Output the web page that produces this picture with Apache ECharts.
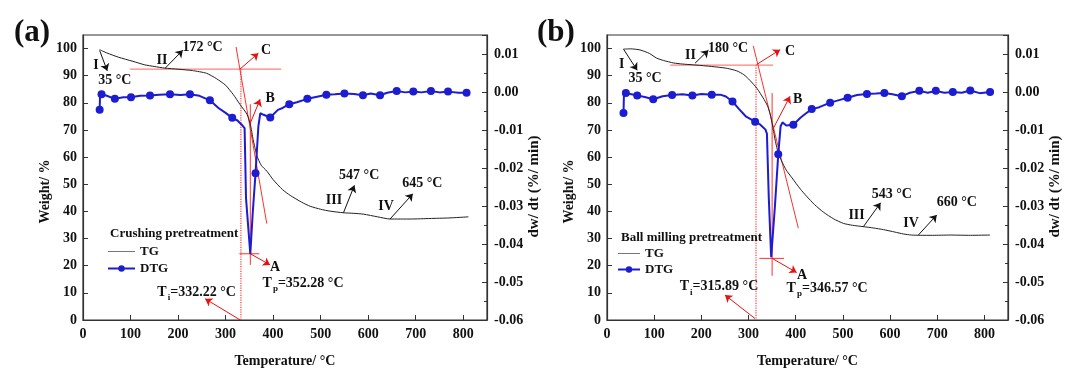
<!DOCTYPE html>
<html>
<head>
<meta charset="utf-8">
<script src="https://cdn.jsdelivr.net/npm/echarts/dist/echarts.min.js"></script>
<style>
html, body { margin: 0; background: #fff; }
#chart { width: 1066px; height: 373px; }
</style>
</head>
<body>
<div id="chart"></div>
<script>
// (a) crushing pretreatment - TG curve (weight %)
var tgA_T = [35, 50, 75, 105, 130, 150, 172, 200, 230, 260, 281, 300, 316, 330, 345, 352, 358, 366, 375, 387, 400, 420, 436, 460, 478, 500, 520, 548, 570, 590, 620, 646, 690, 730, 770, 811];
var tgA_W = [99.6, 98.4, 96.8, 95.3, 94.0, 93.4, 92.8, 92.4, 91.9, 90.9, 88.9, 86.5, 83.1, 79.5, 75.8, 72.2, 66.5, 60.5, 57.0, 54.8, 51.7, 48.0, 45.9, 43.4, 41.9, 40.8, 40.1, 39.5, 39.3, 39.0, 38.0, 37.2, 37.2, 37.4, 37.6, 38.0];
// (a) DTG curve, M = 1 where a dot is drawn
var dtgA_T = [35, 36, 39, 50, 67, 85, 101, 120, 141, 160, 183, 205, 225, 245, 267, 285, 300, 314, 325, 336, 340, 343, 352, 357, 363, 369, 373, 380, 394, 410, 420, 434, 450, 472, 490, 512, 530, 550, 570, 589, 605, 625, 640, 660, 678, 695, 712, 732, 750, 768, 790, 807];
var dtgA_V = [-0.0047, -0.0004, -0.0006, -0.0010, -0.0018, -0.0014, -0.0014, -0.0010, -0.0009, -0.0007, -0.0006, -0.0008, -0.0006, -0.0010, -0.0022, -0.0042, -0.0055, -0.0068, -0.0075, -0.0089, -0.0095, -0.028, -0.0426, -0.032, -0.0214, -0.009, -0.0056, -0.0060, -0.0067, -0.0047, -0.0042, -0.0032, -0.0027, -0.0018, -0.0013, -0.00075, -0.0006, -0.0004, -0.0005, -0.00085, -0.0004, -0.00085, -0.0002, 0.00025, -0.0001, 0.00015, -0.0001, 0.00025, -0.0001, 0.0001, -0.0002, -0.0002];
var dtgA_M = [1, 0, 1, 0, 1, 0, 1, 0, 1, 0, 1, 0, 1, 0, 1, 0, 0, 1, 0, 0, 0, 0, 0, 0, 1, 0, 0, 0, 1, 0, 0, 1, 0, 1, 0, 1, 0, 1, 0, 1, 0, 1, 0, 1, 0, 1, 0, 1, 0, 1, 0, 1];

// (b) ball milling pretreatment
var tgB_T = [35, 50, 70, 90, 105, 120, 141, 160, 183, 210, 233, 255, 275, 290, 303, 318, 331, 340, 346, 351, 357, 363, 370, 380, 392, 410, 423, 440, 459, 480, 501, 520, 543, 565, 586, 610, 628, 645, 664, 690, 727, 770, 812];
var tgB_W = [99.8, 99.9, 99.5, 98.2, 96.5, 95.6, 94.7, 94.3, 94.0, 93.6, 93.2, 92.7, 91.8, 90.4, 88.3, 85.3, 81.8, 79.0, 75.8, 71.5, 65.8, 61.5, 58.6, 55.2, 52.4, 48.2, 45.6, 42.5, 39.7, 37.3, 35.6, 34.9, 34.4, 33.9, 33.3, 32.4, 31.7, 31.3, 31.2, 31.2, 31.3, 31.2, 31.3];
var dtgB_T = [35, 36, 40, 52, 64, 80, 98, 118, 138, 160, 181, 200, 222, 240, 252, 266, 280, 295, 314, 325, 336, 339, 343, 348, 356, 363, 368, 372, 380, 395, 410, 420, 434, 450, 473, 490, 510, 530, 551, 570, 588, 605, 625, 642, 662, 680, 697, 715, 733, 752, 770, 790, 812];
var dtgB_V = [-0.0055, -0.0002, -0.00025, -0.0006, -0.0009, -0.0013, -0.0019, -0.0011, -0.0008, -0.0006, -0.0009, -0.0005, -0.0007, -0.0007, -0.0012, -0.0025, -0.0045, -0.0065, -0.0078, -0.0086, -0.0099, -0.0110, -0.028, -0.0435, -0.030, -0.0164, -0.0090, -0.0080, -0.0088, -0.0086, -0.0068, -0.0058, -0.0045, -0.0040, -0.0028, -0.0022, -0.0015, -0.0008, -0.0005, -0.0004, -0.00025, -0.0006, -0.0011, -0.0002, 0.0003, -0.0002, 0.0003, -0.0002, 0, -0.0002, 0.0004, -0.0003, 0];
var dtgB_M = [1, 0, 1, 0, 1, 0, 1, 0, 1, 0, 1, 0, 1, 0, 0, 1, 0, 0, 1, 0, 0, 0, 0, 0, 0, 1, 0, 0, 0, 1, 0, 0, 1, 0, 1, 0, 1, 0, 1, 0, 1, 0, 1, 0, 1, 0, 1, 0, 1, 0, 1, 0, 1];

// annotations, in [temperature, weight] coordinates
var notesA = {
  pinkLines: [[[99, 92.4], [417, 92.4]]],
  redLines: [[[322, 100.6], [386.7, 35.5]], [[352, 79.5], [352, 20.3]], [[329, 24.4], [371, 24.4]]],
  dotLines: [[[332.22, 92.4], [332.22, 0]]],
  redArrows: [[[330, 92.4], [369, 98.3]], [[352, 72.5], [372.6, 81.3]], [[352, 24.4], [393.7, 20.3]], [[331, 0], [257, 7.8]]],
  blackArrows: [[[35, 99.3], [51, 91.8]], [[173, 92.8], [210, 99.4]], [[548, 39.5], [571, 49.6]], [[646, 37.2], [694, 46.5]]],
  texts: [['I', 27.4, 93.8], ['35 °C', 67, 88.2], ['II', 166, 95.6], ['172 °C', 251.5, 100.5], ['C', 385, 99.4], ['B', 394, 81.5], ['A', 404, 19.2],
          ['{n|T}{s|p}{n|=352.28 °C}', 463, 13.6], ['{n|T}{s|i}{n|=332.22 °C}', 239, 10.1],
          ['III', 528, 44], ['547 °C', 581, 53.2], ['IV', 637.5, 41.9], ['645 °C', 714, 50.2]]
};
var notesB = {
  pinkLines: [[[134, 93.9], [352, 93.9]]],
  redLines: [[[310, 101], [405.6, 33.8]], [[350, 83.6], [350, 16.3]], [[323, 22.7], [375.3, 22.7]]],
  dotLines: [[[315.89, 93.9], [315.89, 0]]],
  redArrows: [[[317, 94.1], [367, 99.6]], [[351, 70.1], [388, 82.4]], [[350, 22.7], [402, 17.5]], [[314, 0.5], [250, 9.2]]],
  blackArrows: [[[35, 99.8], [64, 92]], [[186.6, 94.6], [215, 99.4]], [[543.5, 34.4], [580, 43.2]], [[660, 31.3], [699, 38.7]]],
  texts: [['I', 31, 94], ['35 °C', 80.6, 88.9], ['II', 177, 97.5], ['180 °C', 256.6, 100.1], ['C', 388, 98.8], ['B', 404, 81.1], ['A', 413.5, 16.3],
          ['{n|T}{s|p}{n|=346.57 °C}', 466.5, 11.6], ['{n|T}{s|i}{n|=315.89 °C}', 237.5, 12.2],
          ['III', 529, 38.6], ['543 °C', 603.7, 46.4], ['IV', 644.6, 35.5], ['660 °C', 741.5, 43.3]]
};

var SERIF = 'Liberation Serif';
function font(size) {
  return { fontFamily: SERIF, fontWeight: 'bold', fontSize: size, color: '#111' };
}
var rich = {
  n: { fontFamily: SERIF, fontWeight: 'bold', fontSize: 14, color: '#111' },
  s: { fontFamily: SERIF, fontWeight: 'bold', fontSize: 9, color: '#111', padding: [11, 0, 0, 1] }
};

function pairs(xs, ys) {
  return xs.map(function (x, i) { return [x, ys[i]]; });
}
function dotted(xs, ys, ms) {
  return xs.map(function (x, i) {
    return { value: [x, ys[i]], symbol: ms[i] ? 'circle' : 'none' };
  });
}
// straight annotation lines: plain line series, arrows: markLine
function lineGroup(k, list, color, type, width) {
  return list.map(function (s) {
    return {
      type: 'line', xAxisIndex: k, yAxisIndex: 2 * k, silent: true,
      data: [s[0], s[1]], symbol: 'none',
      lineStyle: { color: color, width: width, type: type },
      itemStyle: { color: color },
      z: 3
    };
  });
}
function arrowGroup(k, list, color) {
  return [{
    type: 'line', xAxisIndex: k, yAxisIndex: 2 * k, data: [], silent: true,
    markLine: {
      silent: true, animation: false, symbol: ['none', 'arrow'], symbolSize: 7,
      label: { show: false },
      lineStyle: { color: color, width: 1, type: 'solid' },
      itemStyle: { color: color },
      emphasis: { disabled: true },
      data: list.map(function (s) { return [{ coord: s[0] }, { coord: s[1] }]; })
    }
  }];
}

function xAx(k) {
  return {
    type: 'value', gridIndex: k, min: 0, max: 850, interval: 100,
    name: 'Temperature/ °C', nameLocation: 'middle', nameGap: 34, nameTextStyle: font(14),
    axisLine: { onZero: false, lineStyle: { color: '#333', width: 1.2 } },
    axisTick: { inside: true, length: 5, lineStyle: { color: '#333' } },
    axisLabel: Object.assign(font(14), { margin: 7, showMaxLabel: false }),
    splitLine: { show: false }
  };
}
function yLeft(k) {
  return {
    type: 'value', gridIndex: k, position: 'left', min: 0, max: 105, interval: 10,
    name: 'Weight/ %', nameLocation: 'middle', nameGap: 26, nameRotate: 90,
    nameTextStyle: Object.assign(font(14), { padding: [0, 28, 0, 0] }),
    axisLine: { show: true, onZero: false, lineStyle: { color: '#333', width: 1.2 } },
    axisTick: { show: true, inside: true, length: 5, lineStyle: { color: '#333' } },
    axisLabel: Object.assign(font(14), { margin: 6, showMaxLabel: false }),
    splitLine: { show: false }
  };
}
function yRight(k) {
  return {
    type: 'value', gridIndex: k, position: 'right', min: -0.06, max: 0.015, interval: 0.01,
    name: 'dw/ dt (%/ min)', nameLocation: 'middle', nameGap: 37, nameRotate: 90,
    nameTextStyle: Object.assign(font(15), { padding: [0, 18, 0, 0] }),
    axisLine: { show: true, onZero: false, lineStyle: { color: '#333', width: 1.2 } },
    axisTick: { show: true, inside: true, length: 5, lineStyle: { color: '#333' } },
    minorTick: { show: true, splitNumber: 2, length: 3, lineStyle: { color: '#333' } },
    axisLabel: Object.assign(font(14), {
      margin: 7, showMaxLabel: false,
      formatter: function (v) { return (Math.round(v * 100) / 100).toFixed(2); }
    }),
    splitLine: { show: false }
  };
}

function panelSeries(k, tgT, tgW, dT, dV, dM, notes) {
  return [].concat(
    lineGroup(k, notes.pinkLines, '#ff8080', 'solid', 1.2),
    lineGroup(k, notes.dotLines, '#ff3a3a', 'dotted', 1.2),
    lineGroup(k, notes.redLines, '#ff3030', 'solid', 1),
    [{
      name: 'TG', type: 'line', xAxisIndex: k, yAxisIndex: 2 * k,
      data: pairs(tgT, tgW), symbol: 'none', smooth: 0.2, z: 4,
      lineStyle: { color: '#222', width: 1 }, itemStyle: { color: '#888', opacity: 0 }
    },
    {
      name: 'DTG', type: 'line', xAxisIndex: k, yAxisIndex: 2 * k + 1,
      data: dotted(dT, dV, dM), symbol: 'circle', symbolSize: 8, showAllSymbol: true, z: 5,
      lineStyle: { color: '#1c1cd0', width: 2 }, itemStyle: { color: '#1c1cd0' }
    }],
    arrowGroup(k, notes.redArrows, '#e81010'),
    arrowGroup(k, notes.blackArrows, '#111111'),
    [{
      type: 'line', xAxisIndex: k, yAxisIndex: 2 * k, data: [], silent: true,
      markPoint: {
        silent: true, animation: false, symbol: 'circle', symbolSize: 0,
        label: { show: true, position: 'inside', formatter: '{b}', rich: rich,
                 fontFamily: SERIF, fontWeight: 'bold', fontSize: 14, color: '#111' },
        data: notes.texts.map(function (t) {
          return { name: t[0], coord: [t[1], t[2]] };
        })
      }
    }]
  );
}

var chart = echarts.init(document.getElementById('chart'));
var legendText = { fontFamily: SERIF, fontWeight: 'bold', fontSize: 13, color: '#111' };
var legendData = [
  { name: 'TG', lineStyle: { color: '#777', width: 1 } },
  { name: 'DTG' }
];
var option = {
  animation: false,
  backgroundColor: '#fff',
  title: [
    { text: '(a)', left: 9, top: 12, textStyle: font(31) },
    { text: '(b)', left: 532, top: 12, textStyle: font(31) },
    { text: 'Crushing pretreatment', left: 105, top: 222, textStyle: font(13) },
    { text: 'Ball milling pretreatment', left: 616, top: 226, textStyle: font(13) }
  ],
  legend: [
    { left: 102, top: 240, orient: 'vertical', itemGap: 4, itemWidth: 27, itemHeight: 8,
      data: legendData, textStyle: legendText, selectedMode: false },
    { left: 612, top: 242, orient: 'vertical', itemGap: 3, itemWidth: 22, itemHeight: 8,
      data: legendData, textStyle: legendText, selectedMode: false }
  ],
  grid: [
    { left: 83, top: 35, width: 404, height: 300, show: true, borderColor: '#333', borderWidth: 1.2 },
    { left: 607, top: 35, width: 401, height: 298, show: true, borderColor: '#333', borderWidth: 1.2 }
  ],
  xAxis: [xAx(0), xAx(1)],
  yAxis: [yLeft(0), yRight(0), yLeft(1), yRight(1)],
  series: panelSeries(0, tgA_T, tgA_W, dtgA_T, dtgA_V, dtgA_M, notesA)
    .concat(panelSeries(1, tgB_T, tgB_W, dtgB_T, dtgB_V, dtgB_M, notesB))
};
chart.setOption(option);
</script>
</body>
</html>
